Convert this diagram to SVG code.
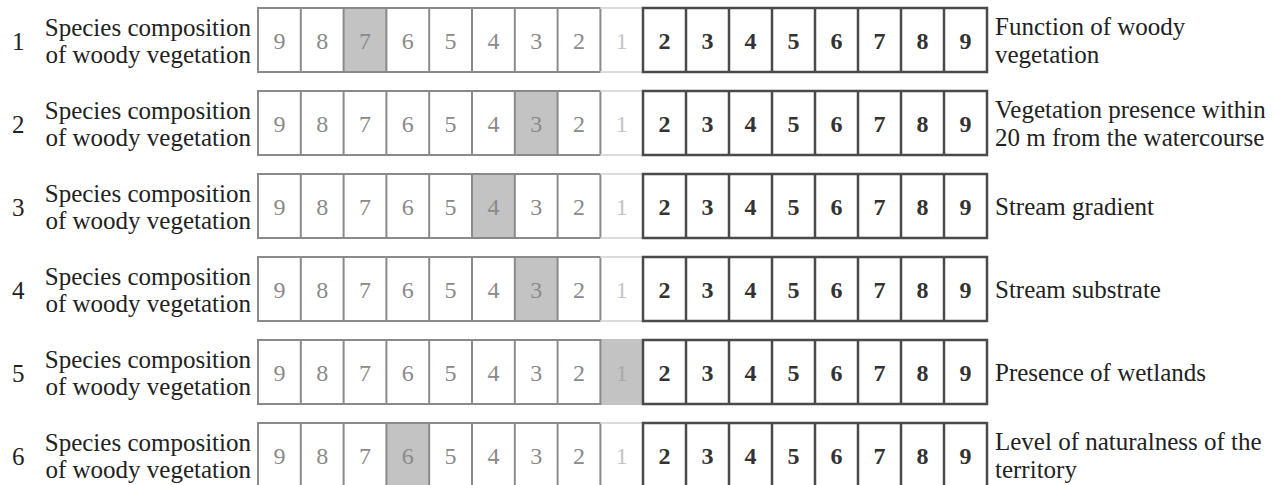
<svg xmlns="http://www.w3.org/2000/svg" width="1284" height="485" viewBox="0 0 1284 485" font-family="'Liberation Serif', 'DejaVu Serif', serif">
<style>
.lbl{font-family:'Liberation Serif','DejaVu Serif',serif;font-size:25px;fill:#222}
.num{font-family:'Liberation Serif','DejaVu Serif',serif;font-size:25px;fill:#222}
.ld{font-family:'Liberation Serif','DejaVu Serif',serif;font-size:24px;fill:#8a8a8a;text-anchor:middle}
.l1{font-family:'Liberation Serif','DejaVu Serif',serif;font-size:24px;fill:#c4c4c4;text-anchor:middle}
.rd{font-family:'Liberation Serif','DejaVu Serif',serif;font-size:24px;fill:#333;font-weight:bold;text-anchor:middle}
.lbox{fill:none;stroke:#8a8a8a;stroke-width:2}
.fade{fill:none;stroke:#dcdcdc;stroke-width:2}
.rbox{fill:none;stroke:#4a4a4a;stroke-width:2.5}
.hl{fill:#c3c3c3}
.end{text-anchor:end}
</style>
<defs>
<path id="ldiv" d="M300.8 0V64M343.6 0V64M386.4 0V64M429.2 0V64M472 0V64M514.8 0V64M557.6 0V64"/>
<path id="rdiv" d="M686 0V64M729 0V64M772 0V64M815 0V64M858 0V64M901 0V64M944 0V64"/>
</defs>

<g id="row1" transform="translate(0,8)">
<rect class="hl" x="343.6" y="0" width="42.8" height="64"/>
<rect class="lbox" x="258" y="0" width="342.4" height="64"/>
<use href="#ldiv" class="lbox"/>
<path class="fade" d="M600.4 0H643M600.4 64H643"/>
<rect class="rbox" x="643" y="0" width="344" height="64"/>
<use href="#rdiv" class="rbox"/>
<text class="num" x="12" y="42">1</text>
<text class="lbl end" x="251" y="28">Species composition</text>
<text class="lbl end" x="251" y="55">of woody vegetation</text>
<text class="ld" x="279.4" y="41">9</text><text class="ld" x="322.2" y="41">8</text><text class="ld" x="365" y="41">7</text><text class="ld" x="407.8" y="41">6</text><text class="ld" x="450.6" y="41">5</text><text class="ld" x="493.4" y="41">4</text><text class="ld" x="536.2" y="41">3</text><text class="ld" x="579" y="41">2</text><text class="l1" x="621.8" y="41">1</text>
<text class="rd" x="664.5" y="41">2</text><text class="rd" x="707.5" y="41">3</text><text class="rd" x="750.5" y="41">4</text><text class="rd" x="793.5" y="41">5</text><text class="rd" x="836.5" y="41">6</text><text class="rd" x="879.5" y="41">7</text><text class="rd" x="922.5" y="41">8</text><text class="rd" x="965.5" y="41">9</text>
<text class="lbl" x="995" y="27">Function of woody</text>
<text class="lbl" x="995" y="55">vegetation</text>
</g>

<g id="row2" transform="translate(0,91)">
<rect class="hl" x="514.8" y="0" width="42.8" height="64"/>
<rect class="lbox" x="258" y="0" width="342.4" height="64"/>
<use href="#ldiv" class="lbox"/>
<path class="fade" d="M600.4 0H643M600.4 64H643"/>
<rect class="rbox" x="643" y="0" width="344" height="64"/>
<use href="#rdiv" class="rbox"/>
<text class="num" x="12" y="42">2</text>
<text class="lbl end" x="251" y="28">Species composition</text>
<text class="lbl end" x="251" y="55">of woody vegetation</text>
<text class="ld" x="279.4" y="41">9</text><text class="ld" x="322.2" y="41">8</text><text class="ld" x="365" y="41">7</text><text class="ld" x="407.8" y="41">6</text><text class="ld" x="450.6" y="41">5</text><text class="ld" x="493.4" y="41">4</text><text class="ld" x="536.2" y="41">3</text><text class="ld" x="579" y="41">2</text><text class="l1" x="621.8" y="41">1</text>
<text class="rd" x="664.5" y="41">2</text><text class="rd" x="707.5" y="41">3</text><text class="rd" x="750.5" y="41">4</text><text class="rd" x="793.5" y="41">5</text><text class="rd" x="836.5" y="41">6</text><text class="rd" x="879.5" y="41">7</text><text class="rd" x="922.5" y="41">8</text><text class="rd" x="965.5" y="41">9</text>
<text class="lbl" x="995" y="27">Vegetation presence within</text>
<text class="lbl" x="995" y="55">20 m from the watercourse</text>
</g>

<g id="row3" transform="translate(0,174)">
<rect class="hl" x="472" y="0" width="42.8" height="64"/>
<rect class="lbox" x="258" y="0" width="342.4" height="64"/>
<use href="#ldiv" class="lbox"/>
<path class="fade" d="M600.4 0H643M600.4 64H643"/>
<rect class="rbox" x="643" y="0" width="344" height="64"/>
<use href="#rdiv" class="rbox"/>
<text class="num" x="12" y="42">3</text>
<text class="lbl end" x="251" y="28">Species composition</text>
<text class="lbl end" x="251" y="55">of woody vegetation</text>
<text class="ld" x="279.4" y="41">9</text><text class="ld" x="322.2" y="41">8</text><text class="ld" x="365" y="41">7</text><text class="ld" x="407.8" y="41">6</text><text class="ld" x="450.6" y="41">5</text><text class="ld" x="493.4" y="41">4</text><text class="ld" x="536.2" y="41">3</text><text class="ld" x="579" y="41">2</text><text class="l1" x="621.8" y="41">1</text>
<text class="rd" x="664.5" y="41">2</text><text class="rd" x="707.5" y="41">3</text><text class="rd" x="750.5" y="41">4</text><text class="rd" x="793.5" y="41">5</text><text class="rd" x="836.5" y="41">6</text><text class="rd" x="879.5" y="41">7</text><text class="rd" x="922.5" y="41">8</text><text class="rd" x="965.5" y="41">9</text>
<text class="lbl" x="995" y="41">Stream gradient</text>
</g>

<g id="row4" transform="translate(0,257)">
<rect class="hl" x="514.8" y="0" width="42.8" height="64"/>
<rect class="lbox" x="258" y="0" width="342.4" height="64"/>
<use href="#ldiv" class="lbox"/>
<path class="fade" d="M600.4 0H643M600.4 64H643"/>
<rect class="rbox" x="643" y="0" width="344" height="64"/>
<use href="#rdiv" class="rbox"/>
<text class="num" x="12" y="42">4</text>
<text class="lbl end" x="251" y="28">Species composition</text>
<text class="lbl end" x="251" y="55">of woody vegetation</text>
<text class="ld" x="279.4" y="41">9</text><text class="ld" x="322.2" y="41">8</text><text class="ld" x="365" y="41">7</text><text class="ld" x="407.8" y="41">6</text><text class="ld" x="450.6" y="41">5</text><text class="ld" x="493.4" y="41">4</text><text class="ld" x="536.2" y="41">3</text><text class="ld" x="579" y="41">2</text><text class="l1" x="621.8" y="41">1</text>
<text class="rd" x="664.5" y="41">2</text><text class="rd" x="707.5" y="41">3</text><text class="rd" x="750.5" y="41">4</text><text class="rd" x="793.5" y="41">5</text><text class="rd" x="836.5" y="41">6</text><text class="rd" x="879.5" y="41">7</text><text class="rd" x="922.5" y="41">8</text><text class="rd" x="965.5" y="41">9</text>
<text class="lbl" x="995" y="41">Stream substrate</text>
</g>

<g id="row5" transform="translate(0,340)">
<rect class="hl" x="600.4" y="-1" width="42.6" height="66"/>
<rect class="lbox" x="258" y="0" width="342.4" height="64"/>
<use href="#ldiv" class="lbox"/>
<rect class="rbox" x="643" y="0" width="344" height="64"/>
<use href="#rdiv" class="rbox"/>
<text class="num" x="12" y="42">5</text>
<text class="lbl end" x="251" y="28">Species composition</text>
<text class="lbl end" x="251" y="55">of woody vegetation</text>
<text class="ld" x="279.4" y="41">9</text><text class="ld" x="322.2" y="41">8</text><text class="ld" x="365" y="41">7</text><text class="ld" x="407.8" y="41">6</text><text class="ld" x="450.6" y="41">5</text><text class="ld" x="493.4" y="41">4</text><text class="ld" x="536.2" y="41">3</text><text class="ld" x="579" y="41">2</text><text class="l1" x="621.8" y="41" style="fill:#aaa">1</text>
<text class="rd" x="664.5" y="41">2</text><text class="rd" x="707.5" y="41">3</text><text class="rd" x="750.5" y="41">4</text><text class="rd" x="793.5" y="41">5</text><text class="rd" x="836.5" y="41">6</text><text class="rd" x="879.5" y="41">7</text><text class="rd" x="922.5" y="41">8</text><text class="rd" x="965.5" y="41">9</text>
<text class="lbl" x="995" y="41">Presence of wetlands</text>
</g>

<g id="row6" transform="translate(0,423)">
<rect class="hl" x="386.4" y="0" width="42.8" height="64"/>
<rect class="lbox" x="258" y="0" width="342.4" height="64"/>
<use href="#ldiv" class="lbox"/>
<path class="fade" d="M600.4 0H643M600.4 64H643"/>
<rect class="rbox" x="643" y="0" width="344" height="64"/>
<use href="#rdiv" class="rbox"/>
<text class="num" x="12" y="42">6</text>
<text class="lbl end" x="251" y="28">Species composition</text>
<text class="lbl end" x="251" y="55">of woody vegetation</text>
<text class="ld" x="279.4" y="41">9</text><text class="ld" x="322.2" y="41">8</text><text class="ld" x="365" y="41">7</text><text class="ld" x="407.8" y="41">6</text><text class="ld" x="450.6" y="41">5</text><text class="ld" x="493.4" y="41">4</text><text class="ld" x="536.2" y="41">3</text><text class="ld" x="579" y="41">2</text><text class="l1" x="621.8" y="41">1</text>
<text class="rd" x="664.5" y="41">2</text><text class="rd" x="707.5" y="41">3</text><text class="rd" x="750.5" y="41">4</text><text class="rd" x="793.5" y="41">5</text><text class="rd" x="836.5" y="41">6</text><text class="rd" x="879.5" y="41">7</text><text class="rd" x="922.5" y="41">8</text><text class="rd" x="965.5" y="41">9</text>
<text class="lbl" x="995" y="27">Level of naturalness of the</text>
<text class="lbl" x="995" y="55">territory</text>
</g>
</svg>
